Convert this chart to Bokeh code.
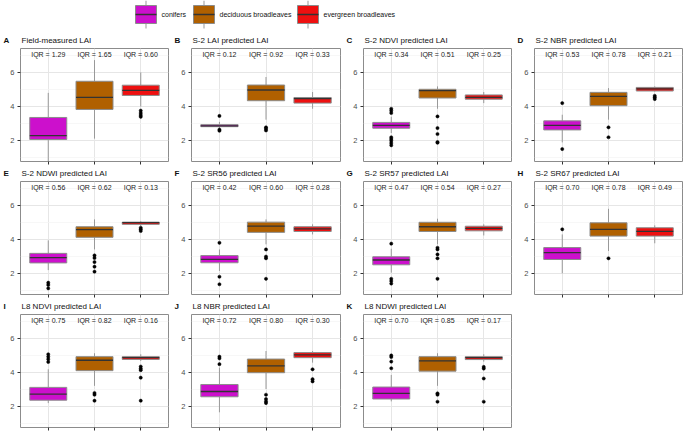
from bokeh.plotting import figure
from bokeh.layouts import column, row
from bokeh.models import Range1d, FixedTicker, ColumnDataSource
from bokeh.core.properties import value
from bokeh.embed import file_html
from bokeh.resources import INLINE

FONT = "Liberation Sans"

categories = ["conifers", "deciduous broadleaves", "evergreen broadleaves"]
colors = ["#CC10CC", "#B06000", "#EE1010"]

panel_letters = ["A", "B", "C", "D", "E", "F", "G", "H", "I", "J", "K"]
panel_titles = ["Field-measured LAI", "S-2 LAI predicted LAI", "S-2 NDVI predicted LAI",
                "S-2 NBR predicted LAI", "S-2 NDWI predicted LAI", "S-2 SR56 predicted LAI",
                "S-2 SR57 predicted LAI", "S-2 SR67 predicted LAI", "L8 NDVI predicted LAI",
                "L8 NBR predicted LAI", "L8 NDWI predicted LAI"]

# per panel: [conifers, deciduous, evergreen]
iqr = [[1.29, 1.65, 0.60], [0.12, 0.92, 0.33], [0.34, 0.51, 0.25], [0.53, 0.78, 0.21],
       [0.56, 0.62, 0.13], [0.42, 0.60, 0.28], [0.47, 0.54, 0.27], [0.70, 0.78, 0.49],
       [0.75, 0.82, 0.16], [0.72, 0.80, 0.30], [0.70, 0.85, 0.17]]
q1 = [[2.07, 3.83, 4.65], [2.82, 4.34, 4.20], [2.73, 4.50, 4.43], [2.63, 4.05, 4.91],
      [2.63, 4.13, 4.89], [2.64, 4.42, 4.47], [2.52, 4.47, 4.51], [2.83, 4.20, 4.20],
      [2.38, 4.11, 4.77], [2.58, 3.99, 4.87], [2.45, 4.08, 4.76]]
median = [[2.30, 4.54, 4.95], [2.87, 4.97, 4.46], [2.90, 4.93, 4.54], [2.90, 4.60, 5.04],
          [2.94, 4.58, 4.99], [2.84, 4.79, 4.63], [2.80, 4.75, 4.65], [3.23, 4.60, 4.48],
          [2.74, 4.72, 4.87], [2.89, 4.39, 5.03], [2.78, 4.68, 4.87]]
q3 = [[3.36, 5.48, 5.25], [2.94, 5.26, 4.53], [3.07, 5.01, 4.68], [3.16, 4.83, 5.12],
      [3.19, 4.75, 5.02], [3.06, 5.02, 4.75], [2.99, 5.01, 4.78], [3.53, 4.98, 4.69],
      [3.13, 4.93, 4.93], [3.30, 4.79, 5.17], [3.15, 4.93, 4.93]]
whisker_low = [[0.80, 2.12, 4.00], [2.75, 3.23, 3.87], [2.45, 3.87, 4.20], [1.90, 3.23, 4.88],
               [2.21, 3.42, 4.80], [2.16, 3.72, 4.30], [2.06, 3.72, 4.24], [2.02, 3.33, 3.78],
               [2.21, 3.22, 4.68], [1.67, 3.03, 4.58], [2.31, 3.22, 4.64]]
whisker_high = [[4.80, 6.72, 6.00], [3.10, 5.73, 4.85], [3.40, 5.18, 4.85], [3.52, 5.08, 5.18],
                [3.95, 5.18, 5.08], [3.42, 5.18, 4.89], [3.46, 5.22, 4.89], [4.30, 5.80, 4.83],
                [4.19, 5.13, 5.07], [4.29, 5.26, 5.26], [3.86, 5.13, 5.07]]
outliers = [
    [[], [], [3.76, 3.62, 3.50, 3.40]],
    [[3.45, 2.65, 2.58], [2.78, 2.70, 2.60], []],
    [[3.87, 3.76, 3.62, 2.20, 2.10, 2.00, 1.86, 1.73], [3.42, 2.74, 2.39, 1.92, 1.88], []],
    [[4.20, 1.51], [2.78, 2.20], [4.63, 4.54, 4.44]],
    [[1.47, 1.34, 1.14], [3.07, 2.92, 2.68, 2.41, 2.12], [4.69, 4.60, 4.50]],
    [[3.81, 1.82, 1.38], [3.42, 3.00, 2.90, 1.70], []],
    [[3.76, 1.70, 1.57, 1.42], [3.52, 3.42, 3.13, 2.90, 1.70], []],
    [[4.60], [2.90], []],
    [[5.07, 4.93, 4.78, 4.62], [2.80, 2.70, 2.35], [4.35, 4.23, 4.14, 3.70, 2.35]],
    [[4.93, 4.83, 4.49], [2.70, 2.45, 2.31, 2.21], [4.19, 3.61, 3.48]],
    [[5.00, 4.91, 4.64, 4.25], [2.78, 2.70, 2.29], [4.33, 4.23, 3.65, 2.29]],
]

y_ticks = [2, 4, 6]
y_minor = [1, 3, 5, 7]

# layout constants
NCOL = 4
COL_W = [171, 172, 171, 171]
COL_X = [sum(COL_W[:k]) for k in range(NCOL)]
TOTAL_W = sum(COL_W)
STRIP_H = 14
BL, BR, BT, BB = 20, 3, 1, 5
FH = 113
PH = BT + FH + BB
LEG_H = 33
BOX_W = 0.8
IQR_Y = 7.05
BOX_LINE = "#8c8c8c"
WHISK = "#999999"
MED = "#333333"


def make_panel(i):
    c = i % NCOL
    p = figure(width=COL_W[c], height=PH, x_range=Range1d(0.4, 3.6), y_range=Range1d(0.78, 7.4),
               output_backend="svg", toolbar_location=None,
               min_border_left=BL, min_border_right=BR, min_border_top=BT, min_border_bottom=BB)
    p.background_fill_color = "white"
    p.border_fill_color = "white"
    p.outline_line_color = "#8c8c8c"
    p.outline_line_width = 1

    xs = [k + 1 for k in range(len(categories))]
    src = ColumnDataSource(dict(
        x=xs, xl=[x - BOX_W / 2 for x in xs], xr=[x + BOX_W / 2 for x in xs],
        q1=q1[i], q3=q3[i], med=median[i], lo=whisker_low[i], hi=whisker_high[i],
        color=colors, t=["IQR = %.2f" % v for v in iqr[i]], ty=[IQR_Y] * 3))

    p.segment(x0="x", y0="q3", x1="x", y1="hi", source=src, line_color=WHISK, line_width=1)
    p.segment(x0="x", y0="lo", x1="x", y1="q1", source=src, line_color=WHISK, line_width=1)
    p.vbar(x="x", width=BOX_W, bottom="q1", top="q3", source=src,
           fill_color="color", line_color=BOX_LINE, line_width=1)
    p.segment(x0="xl", y0="med", x1="xr", y1="med", source=src, line_color=MED, line_width=1.3)

    ox, oy = [], []
    for k, vals in enumerate(outliers[i]):
        for v in vals:
            ox.append(xs[k])
            oy.append(v)
    p.scatter(x=ox, y=oy, size=3.2, fill_color="black", line_color="black", line_width=0.5)

    p.text(x="x", y="ty", text="t", source=src, text_font=value(FONT),
           text_font_size=value("7px"), text_align="center", text_baseline="middle",
           text_color="#222222")

    # axes
    p.xaxis.ticker = FixedTicker(ticks=xs)
    p.xaxis.major_label_text_font_size = "1px"
    p.xaxis.major_label_text_color = None
    p.xaxis.major_label_standoff = 0
    p.xaxis.axis_line_color = None
    p.xaxis.major_tick_out = 3
    p.xaxis.major_tick_in = 0
    p.xaxis.major_tick_line_color = "#333333"
    p.xaxis.minor_tick_line_color = None

    p.yaxis.ticker = FixedTicker(ticks=y_ticks, minor_ticks=y_minor)
    p.yaxis.axis_line_color = None
    p.yaxis.major_tick_out = 3
    p.yaxis.major_tick_in = 0
    p.yaxis.major_tick_line_color = "#333333"
    p.yaxis.minor_tick_line_color = None
    p.yaxis.major_label_text_font = FONT
    p.yaxis.major_label_text_font_size = "7.5px"
    p.yaxis.major_label_text_color = "#4d4d4d"
    p.yaxis.major_label_standoff = 2

    p.xgrid.grid_line_color = "#e6e6e6"
    p.ygrid.grid_line_color = "#e6e6e6"
    p.ygrid.minor_grid_line_color = "#f3f3f3"
    p.ygrid.minor_grid_line_width = 0.7
    return p


def make_strip(idx):
    s = figure(width=TOTAL_W, height=STRIP_H, x_range=Range1d(0, TOTAL_W),
               y_range=Range1d(STRIP_H, 0), output_backend="svg", toolbar_location=None,
               min_border_left=0, min_border_right=0, min_border_top=0, min_border_bottom=0)
    s.xaxis.visible = False
    s.yaxis.visible = False
    s.grid.visible = False
    s.outline_line_color = None
    cols = [k % NCOL for k in idx]
    mid = [STRIP_H / 2] * len(idx)
    s.text(x=[COL_X[c] + 3 for c in cols], y=mid, text=[panel_letters[k] for k in idx],
           text_font=value(FONT), text_font_size=value("8px"), text_font_style="bold",
           text_baseline="middle", text_color="#111111")
    s.text(x=[COL_X[c] + BL + 1 for c in cols], y=mid, text=[panel_titles[k] for k in idx],
           text_font=value(FONT), text_font_size=value("8px"),
           text_baseline="middle", text_color="#111111")
    return s


# legend figure
leg = figure(width=TOTAL_W, height=LEG_H, x_range=Range1d(0, TOTAL_W), y_range=Range1d(LEG_H, 0),
             output_backend="svg", toolbar_location=None,
             min_border_left=0, min_border_right=0, min_border_top=0, min_border_bottom=0)
leg.xaxis.visible = False
leg.yaxis.visible = False
leg.grid.visible = False
leg.outline_line_color = None

key_left = [135, 193, 297]
KW = 21
kx = [k + KW / 2 for k in key_left]
lsrc = ColumnDataSource(dict(
    x=kx, l=key_left, r=[k + KW for k in key_left], color=colors,
    tx=[k + KW + 5 for k in key_left], label=categories,
    wt=[0] * 3, wb=[28] * 3, bt=[5] * 3, bb=[23] * 3, my=[14] * 3))
leg.segment(x0="x", y0="wt", x1="x", y1="wb", source=lsrc, line_color=WHISK, line_width=1)
leg.quad(left="l", right="r", top="bt", bottom="bb", source=lsrc, fill_color="color",
         line_color=BOX_LINE, line_width=1)
leg.segment(x0="l", y0="my", x1="r", y1="my", source=lsrc, line_color=MED, line_width=1.3)
leg.text(x="tx", y="my", text="label", source=lsrc, text_font=value(FONT),
         text_font_size=value("7px"), text_baseline="middle", text_align="left",
         text_color="#111111")

n = len(panel_titles)
panels = [make_panel(i) for i in range(n)]
rows = [leg]
for r0 in range(0, n, NCOL):
    idx = list(range(r0, min(r0 + NCOL, n)))
    rows.append(make_strip(idx))
    rows.append(row(*[panels[k] for k in idx]))
layout = column(*rows)

open("out.html", "w").write(file_html(layout, INLINE))
